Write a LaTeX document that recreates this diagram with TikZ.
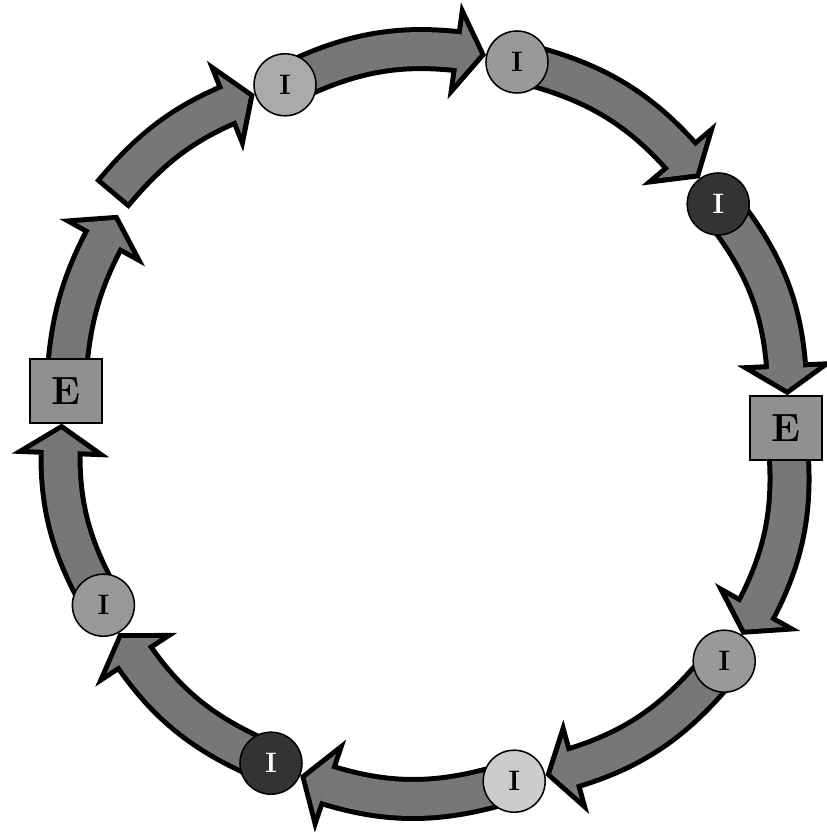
\documentclass[tikz,border=0pt]{standalone}
\usetikzlibrary{arrows.meta,bending,backgrounds}
\definecolor{flowgray}{RGB}{119,119,119}
\definecolor{extgray}{RGB}{144,144,144}
\definecolor{intlight}{RGB}{170,170,170}
\definecolor{intmid}{RGB}{153,153,153}
\definecolor{intpale}{RGB}{204,204,204}
\definecolor{intdark}{RGB}{51,51,51}
\tikzset{
    flow/.style={line width=0.85cm,draw=flowgray,
        -{Triangle[length=0.525cm,width=1.6cm,line width=0pt]},
        shorten >=0.15cm,
        preaction={draw=black,line width=1.1cm,shorten >=0pt,shorten <=0pt,
            -{Triangle[length=0.8cm,width=2.45cm,line width=0pt]}}},
    intstate/.style={circle,draw=black,line width=1.1pt,minimum size=1.55cm,inner sep=0pt,
        font=\fontsize{20}{24}\selectfont\bfseries},
    extstate/.style={rectangle,draw=black,line width=1.1pt,fill=extgray,
        minimum width=1.8cm,minimum height=1.6cm,inner sep=0pt,
        font=\fontsize{28}{32}\selectfont\bfseries}
}
\begin{document}
\begin{tikzpicture}
    \useasboundingbox (-10.625,-10.25) rectangle (10.05,10.7);
    % States round the cycle
    \node[extstate] (eleft) at (-8.98,0.93) {E};
    \node[intstate,fill=intlight] (i1) at (-3.5,8.58) {I};
    \node[intstate,fill=intmid] (i2) at (2.3,9.15) {I};
    \node[intstate,fill=intdark,text=white] (i3) at (7.33,5.6) {I};
    \node[extstate] (eright) at (9.03,0) {E};
    \node[intstate,fill=intmid] (i4) at (7.48,-5.83) {I};
    \node[intstate,fill=intpale] (i5) at (2.23,-8.83) {I};
    \node[intstate,fill=intdark,text=white] (i6) at (-3.85,-8.38) {I};
    \node[intstate,fill=intmid] (i7) at (-8.04,-4.43) {I};
    % Free ends of the split arrow
    \coordinate (gapend) at (-7.68,5.33);
    \coordinate (gapstart) at (-7.83,5.83);
    % Flow arrows, behind the states
    \begin{pgfonlayer}{background}
        \draw[flow] (eleft.center) to[bend left=14] (gapend);
        \draw[flow,shorten <=0.125cm] (gapstart) to[bend left=15] (i1);
        \draw[flow] (i1.center) to[bend left=18] (i2);
        \draw[flow] (i2.center) to[bend left=19] (i3);
        \draw[flow] (i3.center) to[bend left=19] (eright);
        \draw[flow] (eright.center) to[bend left=19] (i4);
        \draw[flow] (i4.center) to[bend left=19] (i5);
        \draw[flow] (i5.center) to[bend left=19] (i6);
        \draw[flow] (i6.center) to[bend left=18] (i7);
        \draw[flow] (i7.center) to[bend left=17] (eleft);
    \end{pgfonlayer}
\end{tikzpicture}
\end{document}
